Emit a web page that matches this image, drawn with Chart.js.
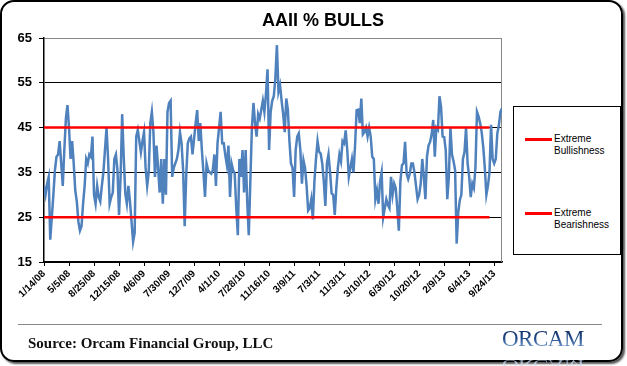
<!DOCTYPE html>
<html>
<head>
<meta charset="utf-8">
<script src="https://cdn.jsdelivr.net/npm/chart.js@4.4.1/dist/chart.umd.min.js"></script>
<style>
  body { margin: 0; background: #fff; }
  #wrap { position: relative; width: 627px; height: 366px; overflow: hidden; font-family: "Liberation Sans", Arial, sans-serif; }
  #frame { position: absolute; left: 0; top: 0; width: 619px; height: 358px; border: 2px solid #000; border-radius: 14px; box-shadow: 2px 2px 2px #555; }
  #title { position: absolute; left: 223px; width: 200px; top: 10px; text-align: center; font: bold 18px "Liberation Sans", Arial, sans-serif; color: #000; }
  #myChart { position: absolute; left: 0; top: 0; }
  #legend { position: absolute; left: 513px; top: 106px; width: 106px; height: 147px; border: 1px solid #000; background: #fff; }
  .entry { position: absolute; left: 11px; font-size: 10px; line-height: 12px; color: #000; }
  .swatch { position: absolute; left: 0; top: 5px; width: 27px; height: 3px; }
  .entry span { display: block; margin-left: 29px; width: 60px; }
  #rule { position: absolute; left: 18px; top: 324px; width: 584px; height: 1px; background: #888; }
  #source { position: absolute; left: 28px; top: 335px; font: bold 15px "Liberation Serif", "Times New Roman", serif; color: #111; }
  #logo, #logoShadow { position: absolute; left: 502px; font: 23px "Liberation Serif", "Times New Roman", serif; letter-spacing: -0.5px; line-height: 26px; }
  #logo { top: 326px; background: linear-gradient(#0a2250 0%, #1c4686 45%, #6f96c8 80%, #b3cbe8 100%);
          -webkit-background-clip: text; background-clip: text; color: transparent; }
  #logoShadow { top: 331px; transform: scaleY(-0.55); transform-origin: 0 100%;
          background: linear-gradient(#ffffff 0%, #9db7da 100%); -webkit-background-clip: text; background-clip: text; color: transparent; opacity: 0.8; }
</style>
</head>
<body>
<div id="wrap">
  <div id="frame"></div>
  <canvas id="myChart" width="627" height="366"></canvas>
  <div id="title">AAII % BULLS</div>
  <div id="legend"></div>
  <div id="rule"></div>
  <div id="source">Source: Orcam Financial Group, LLC</div>
  <div id="logoShadow">ORCAM</div>
  <div id="logo">ORCAM</div>
</div>
<script>
// weekly AAII bullish readings (%), 1/14/08 onwards
const bulls = [
  32, 30, 32.5, 34, 20, 25, 30, 35.5, 38.5, 39,
  42, 37, 32, 40, 47, 50, 45, 38, 42, 37,
  31, 28.5, 24, 22, 23, 28, 32, 38, 37, 39,
  38.5, 43, 30, 28, 32, 29.5, 28.5, 32, 35, 40,
  45, 38, 28, 29.5, 30.5, 38, 39, 35.5, 25.5, 34,
  48, 38.5, 30.3, 28, 32, 28.5, 24, 19.5, 21.5, 43,
  44.5, 42, 39.5, 42, 44, 36, 32, 35, 46, 48.5,
  44, 34, 41, 36, 30.5, 38, 28, 38, 30, 48.5,
  50.5, 51, 34, 36, 37, 38, 40, 44, 41.5, 35.5,
  23, 34.5, 41.5, 42.6, 43, 39, 42.5, 46, 48.9, 42,
  46, 40, 35, 29.5, 37, 35.5, 35, 34.7, 35.5, 39,
  32, 41.5, 45, 48.5, 41.5, 41.5, 38.8, 36.6, 41, 29.5,
  37, 35.5, 34.7, 27, 21, 38, 34, 40, 30.5, 40,
  28.5, 21, 33, 45, 50.5, 46, 43, 48, 47, 49,
  51, 48.5, 52.5, 58, 40, 48.5, 51, 52, 56, 63.4,
  53, 54.5, 51, 48, 44, 51.5, 49, 42, 37, 36,
  29.5, 40, 43, 43.7, 40, 32.5, 37.7, 36, 32, 26.5,
  27, 29, 24.5, 33, 38, 42, 39.6, 39.2, 37, 33,
  27.5, 37, 39, 35, 30.3, 30, 25.5, 31.5, 36, 39,
  37.5, 42, 41.5, 44.4, 40, 34, 36, 38, 35, 41,
  48.9, 49, 46, 51.5, 43.5, 44, 45, 43, 45, 43,
  38.5, 38, 29, 31, 28, 33, 35, 25, 27, 29,
  27.7, 27, 34, 30, 32.5, 31.5, 27, 22, 33, 36.6,
  37, 41.8, 34.7, 33.5, 34.7, 37, 37, 35, 32, 29,
  30, 32.5, 38, 34, 29, 38.5, 41, 41.8, 43.5, 46.7,
  38.5, 45, 44.5, 52, 49.6, 43, 42.9, 40, 29, 34,
  45, 39, 37.5, 35.5, 19.1, 26, 28.8, 30, 38, 39.5,
  45, 37, 34, 29.5, 32.5, 31.5, 36, 48.5, 47.5, 46,
  44, 40.7, 36, 30, 32, 35, 45.6, 38, 37, 38,
  43.7, 45.5, 48.5, 49.3
];

// one label every 16 weeks
const tickLabels = [
  "1/14/08", "5/5/08", "8/25/08", "12/15/08", "4/6/09", "7/30/09", "12/7/09",
  "4/1/10", "7/28/10", "11/16/10", "3/9/11", "7/3/11", "11/3/11", "3/10/12",
  "6/30/12", "10/20/12", "2/9/13", "6/4/13", "9/24/13"
];
const weeksPerLabel = 16;

const bullishLevel = 45;
const bearishLevel = 25;
const levelLastWeek = 285;

const levelLine = (y) => [{ x: 0, y: y }, { x: levelLastWeek, y: y }];

const plotFrame = {
  id: "plotFrame",
  beforeDatasetsDraw(chart) {
    const { ctx, chartArea } = chart;
    ctx.save();
    ctx.strokeStyle = "#888";
    ctx.lineWidth = 1;
    ctx.beginPath();
    ctx.moveTo(chartArea.right - 0.5, chartArea.top);
    ctx.lineTo(chartArea.right - 0.5, chartArea.bottom);
    ctx.stroke();
    ctx.restore();
  },
};

const buildLegend = (chart) => {
  const legend = document.querySelector("#legend");
  chart.data.datasets
    .filter((ds) => ds.showInLegend)
    .forEach((ds, i) => {
      const entry = document.createElement("div");
      entry.className = "entry";
      entry.style.top = 26 + i * 74 + "px";
      entry.innerHTML = `<div class="swatch" style="background:${ds.borderColor}"></div><span>${ds.label}</span>`;
      legend.appendChild(entry);
    });
};

const ctx = document.getElementById("myChart");
const labelFont = { family: "'Liberation Sans', Arial, sans-serif", weight: "bold" };

const chart = new Chart(ctx, {
  type: "line",
  data: {
    datasets: [
      {
        label: "Extreme Bullishness",
        data: levelLine(bullishLevel),
        borderColor: "#FF0000",
        borderWidth: 2.5,
        pointRadius: 0,
        showInLegend: true,
        order: 1,
      },
      {
        label: "Extreme Bearishness",
        data: levelLine(bearishLevel),
        borderColor: "#FF0000",
        borderWidth: 2.5,
        pointRadius: 0,
        showInLegend: true,
        order: 1,
      },
      {
        label: "AAII % Bulls",
        data: bulls.map((v, i) => ({ x: i, y: v })),
        borderColor: "#4F81BD",
        borderWidth: 2.5,
        pointRadius: 0,
        tension: 0,
        order: 2,
      },
    ],
  },
  options: {
    responsive: false,
    animation: false,
    layout: { padding: { left: 0, top: 38, right: 125, bottom: 0 } },
    plugins: { legend: { display: false }, tooltip: { enabled: false }, title: { display: false } },
    scales: {
      x: {
        type: "linear",
        min: 0,
        max: bulls.length - 1,
        afterFit: (scale) => { scale.height = 104; },
        grid: { drawOnChartArea: false, color: "#000", tickLength: 4 },
        border: { color: "#000", width: 1.5 },
        ticks: {
          stepSize: weeksPerLabel,
          includeBounds: false,
          autoSkip: false,
          maxRotation: 45,
          minRotation: 45,
          padding: 2,
          color: "#000",
          font: { ...labelFont, size: 10 },
          callback: (v) => tickLabels[v / weeksPerLabel],
        },
      },
      y: {
        min: 15,
        max: 65,
        afterFit: (scale) => { scale.width = 44; },
        grid: {
          color: (c) => (c.tick.value === 65 ? "#888" : "#000"),
          tickColor: "#000",
          tickLength: 5,
        },
        border: { color: "#000", width: 1.5 },
        ticks: {
          stepSize: 10,
          padding: 7,
          color: "#000",
          font: { ...labelFont, size: 13 },
        },
      },
    },
  },
  plugins: [plotFrame],
});

buildLegend(chart);
</script>
</body>
</html>
